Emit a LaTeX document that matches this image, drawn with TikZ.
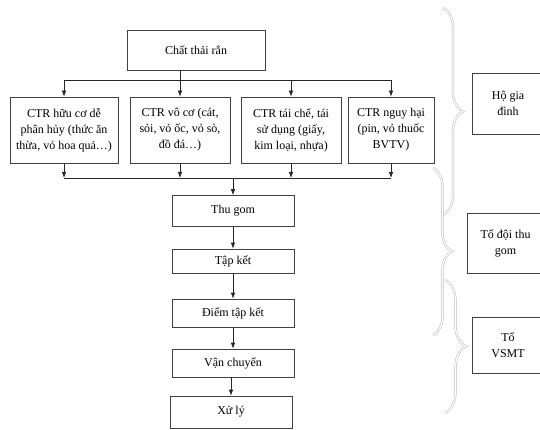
\documentclass[tikz,border=0pt]{standalone}
\usepackage{fontspec}
\setmainfont{Liberation Serif}
\usetikzlibrary{arrows.meta,decorations.pathreplacing}
\begin{document}
\begin{tikzpicture}[x=1pt,y=-1pt,
 box/.style={draw=black!75, line width=0.7pt, rectangle, inner sep=0pt, align=center, font=\fontsize{12}{16}\selectfont},
 arr/.style={-{Latex[length=6pt,width=4.5pt]}, draw=black!85, line width=0.7pt},
 ln/.style={draw=black!85, line width=0.7pt},
 bracepath/.style={decorate, decoration={brace, amplitude=#1}, draw=gray!55, line width=0.5pt, double=white, double distance=1.2pt}]
\clip (0,0) rectangle (540,430);
\fill[white] (0,0) rectangle (540,430);
% top
\node[box, minimum width=138pt, minimum height=40pt] (top) at (196,50) {Chất thải rắn};
% categories
\node[box, minimum width=108pt, minimum height=66pt] (b1) at (64,130) {CTR hữu cơ dễ\\phân hủy (thức ăn\\thừa, vỏ hoa quả…)};
\node[box, minimum width=100pt, minimum height=66pt] (b2) at (180,130) {CTR vô cơ (cát,\\sỏi, vỏ ốc, vỏ sò,\\đồ đá…)};
\node[box, minimum width=100pt, minimum height=66pt] (b3) at (291,130) {CTR tái chế, tái\\sử dụng (giấy,\\kim loại, nhựa)};
\node[box, minimum width=86pt, minimum height=66pt] (b4) at (391,130) {CTR nguy hại\\(pin, vỏ thuốc\\BVTV)};
% chain
\node[box, minimum width=122pt, minimum height=31pt] (thugom) at (233,211) {Thu gom};
\node[box, minimum width=122pt, minimum height=24pt] (tapket) at (233,261) {Tập kết};
\node[box, minimum width=122pt, minimum height=28pt] (diem) at (233,313) {Điểm tập kết};
\node[box, minimum width=122pt, minimum height=28pt] (vanchuyen) at (233,363) {Vận chuyển};
\node[box, minimum width=122pt, minimum height=32pt] (xuly) at (231,412) {Xử lý};
% right
\node[box, minimum width=72pt, minimum height=61pt] (ho) at (508,103.5) {Hộ gia\\đình};
\node[box, minimum width=77pt, minimum height=60pt] (todoi) at (505.5,243) {Tổ đội thu\\gom};
\node[box, minimum width=72pt, minimum height=56pt] (vsmt) at (508,345) {Tổ\\VSMT};
% buses
\coordinate (busT) at (180,80);
\coordinate (busB) at (233,178);
\draw[ln] (top.south -| busT) -- (busT);
\draw[ln] (b1.north |- busT) -- (b4.north |- busT);
\foreach \b in {b1,b2,b3,b4} \draw[arr] (\b.north |- busT) -- (\b.north);
\foreach \b in {b1,b2,b3,b4} \draw[arr] (\b.south) -- (\b.south |- busB);
\draw[ln] (b1.south |- busB) -- (b4.south |- busB);
\draw[arr] (busB) -- (thugom.north);
\draw[arr] (thugom.south) -- (tapket.north);
\draw[arr] (tapket.south) -- (diem.north);
\draw[arr] (diem.south) -- (vanchuyen.north);
\draw[arr] (vanchuyen.south -| xuly.north) -- (xuly.north);
% braces
\coordinate (r1a) at (443,8);  \coordinate (r1b) at (443,215);
\coordinate (r2a) at (433,168); \coordinate (r2b) at (433,335);
\coordinate (r3a) at (445,280); \coordinate (r3b) at (445,413);
\draw[bracepath=20pt] (r1a) -- (r1b);
\draw[bracepath=19pt] (r2a) -- (r2b);
\draw[bracepath=21pt] (r3a) -- (r3b);
\end{tikzpicture}
\end{document}
